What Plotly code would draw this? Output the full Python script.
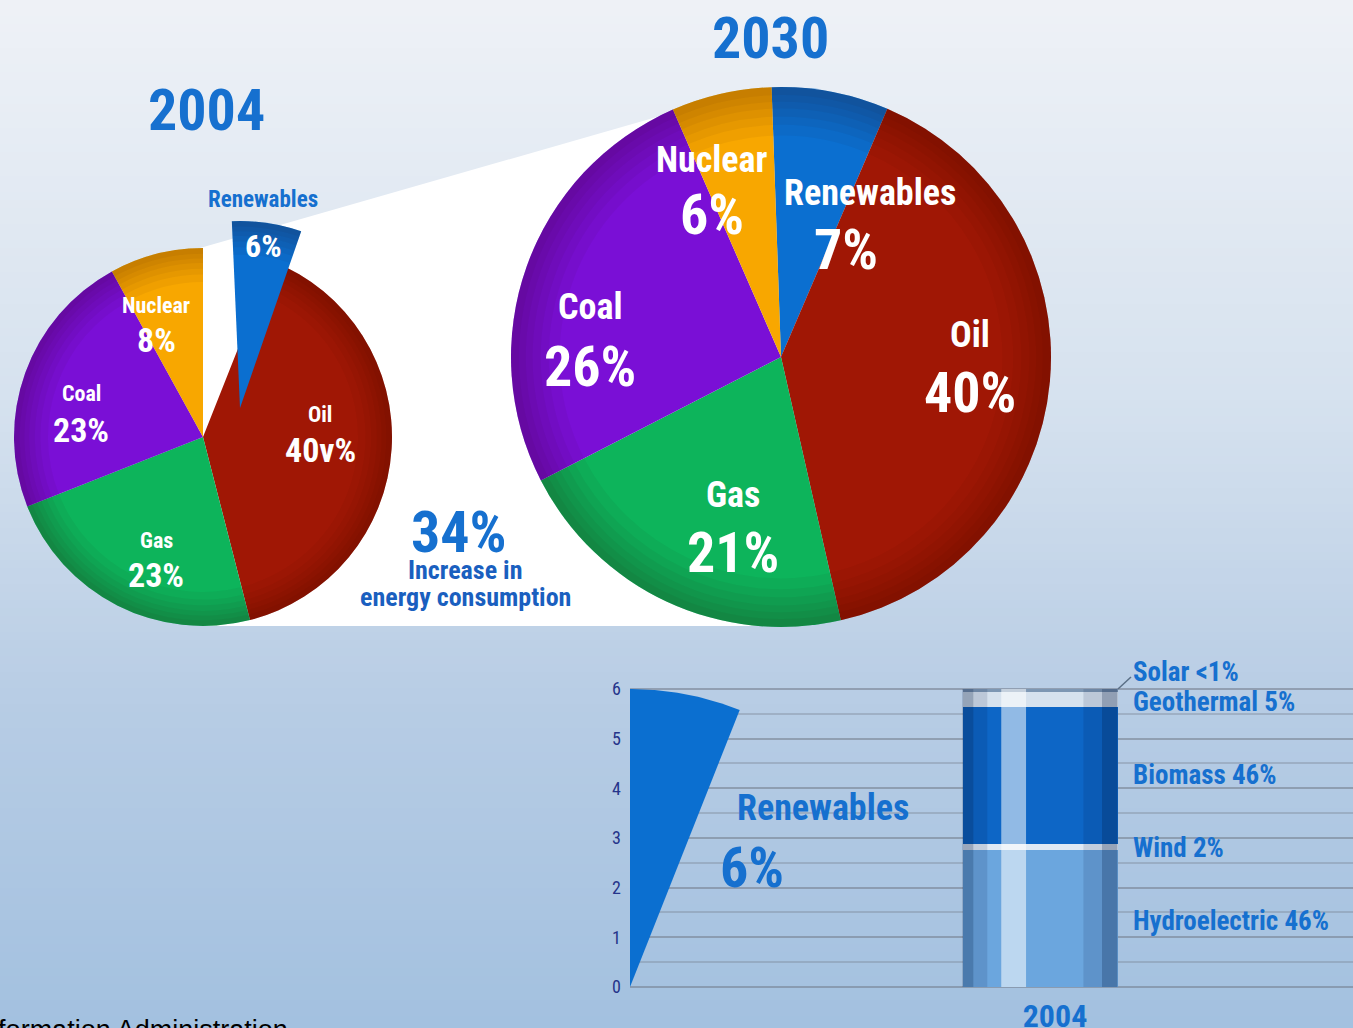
import numpy as np
import plotly.graph_objects as go

W, H = 1353, 1028

# ---------------- data ----------------
sources = ["Renewables", "Oil", "Gas", "Coal", "Nuclear"]
share_2004 = [6, 40, 23, 23, 8]
share_2030 = [7, 40, 21, 26, 6]
pct_text_2004 = ["6%", "40v%", "23%", "23%", "8%"]
pct_text_2030 = ["7%", "40%", "21%", "26%", "6%"]
years = ["2004", "2030"]
consumption_increase = "34%"
increase_text = ["Increase in", "energy consumption"]
renew_sources = ["Hydroelectric", "Wind", "Biomass", "Geothermal", "Solar"]
renew_split_2004 = [46, 2, 46, 5, 1]
renew_split_text = ["46%", "2%", "46%", "5%", "<1%"]
bar_year = "2004"
y_tick_values = [0, 1, 2, 3, 4, 5, 6]
source_note = "Source: Energy Information Administration"

# ---------------- style ----------------
FONT = "Noto Sans Condensed, Noto Sans ExtraCondensed, Liberation Sans Narrow, Roboto Condensed, Roboto, sans-serif"
SRC_COLORS = {"Renewables": "#0b6fd0", "Oil": "#a01705", "Gas": "#0db45b",
              "Coal": "#7a0fd6", "Nuclear": "#f8a700"}
RENEW_COLORS = ["#6ba6de", "#dfe9f4", "#0d66c6", "#d6e2ee", "#7d97b3"]
BLUE = "#1670cf"
DARKBLUE = "#1a5fbf"
WHITE = "#ffffff"
TRANSPARENT = "rgba(0,0,0,0)"


def px(x):
    return x / W


def py(y):
    return 1 - y / H


def dom(cx, cy, r):
    return dict(x=[(cx - r) / W, (cx + r) / W], y=[1 - (cy + r) / H, 1 - (cy - r) / H])


fig = go.Figure()

# ---------------- background ----------------
shapes = []
stops_y = [0, 400, 700, H]
stops_c = np.array([[239, 242, 247], [214, 226, 239], [184, 205, 229], [163, 193, 224]])
band = 8
for y0 in range(0, H, band):
    yc = y0 + band / 2
    c = [int(np.interp(yc, stops_y, stops_c[:, k])) for k in range(3)]
    shapes.append(dict(type="rect", xref="paper", yref="paper", x0=0, x1=1,
                       y0=py(y0 + band + 1), y1=py(y0), line=dict(width=0),
                       fillcolor="rgb(%d,%d,%d)" % tuple(c), layer="below"))

# white "zoom" region joining both pies
pts = [(193, 250), (688, 108), (781, 357), (781, 626), (203, 626)]
path = "M " + " L ".join("%f,%f" % (px(a), py(b)) for a, b in pts) + " Z"
shapes.append(dict(type="path", xref="paper", yref="paper", path=path,
                   fillcolor=WHITE, line=dict(width=0), layer="below"))


# ---------------- pies ----------------
def pie_with_rim(labels, values, colors, domain, rotation, name, rim_mask):
    fig.add_trace(go.Pie(
        labels=labels, values=values, sort=False, direction="clockwise", rotation=rotation,
        marker=dict(colors=colors, line=dict(width=0)),
        textinfo="none", domain=domain, showlegend=False, name=name))
    # darker rim to suggest the bevelled edge of the original
    for hole in [0.82, 0.86, 0.89, 0.92, 0.945, 0.97]:
        fig.add_trace(go.Pie(
            labels=labels, values=values, sort=False, direction="clockwise", rotation=rotation,
            hole=hole, marker=dict(colors=["rgba(40,0,0,0.045)" if m else TRANSPARENT
                                           for m in rim_mask], line=dict(width=0)),
            textinfo="none", domain=domain, showlegend=False, hoverinfo="skip"))


pie_with_rim(sources, share_2004, [TRANSPARENT] + [SRC_COLORS[s] for s in sources[1:]],
             dom(203, 437, 189), 0, years[0], [False, True, True, True, True])
pie_with_rim(["Renewables 2004", "rest"], [share_2004[0], 100 - share_2004[0]],
             [SRC_COLORS["Renewables"], TRANSPARENT], dom(240, 408, 187), -2.5, "Renewables",
             [True, False])
pie_with_rim(sources, share_2030, [SRC_COLORS[s] for s in sources],
             dom(781, 357, 270), -2, years[1], [True] * 5)

# ---------------- renewables bar chart ----------------
ppu = 298 / 6.0          # pixels per axis unit (same on x and y)
x0px = 630
ylo, yhi = -0.15, 6.2
bar_x = (1040 - x0px) / ppu
bw = 155 / ppu

renew_total = share_2004[0]
theta = np.linspace(0, renew_total / 100 * 2 * np.pi, 60)
wx = np.concatenate([[0], renew_total * np.sin(theta), [0]])
wy = np.concatenate([[0], renew_total * np.cos(theta), [0]])
fig.add_trace(go.Scatter(x=wx, y=wy, mode="lines", fill="toself",
                         fillcolor=SRC_COLORS["Renewables"], line=dict(width=0, color=SRC_COLORS["Renewables"]),
                         hoverinfo="skip", showlegend=False))

for name, v, col in zip(renew_sources, renew_split_2004, RENEW_COLORS):
    fig.add_trace(go.Bar(x=[bar_x], y=[v * renew_total / 100], width=bw, name=name,
                         marker=dict(color=col, line=dict(width=0)), showlegend=False))

bl, br = bar_x - bw / 2, bar_x + bw / 2
top = sum(renew_split_2004) * renew_total / 100
for xa, xb, fc in [(bl, bl + 0.07 * bw, "rgba(0,20,60,0.30)"),
                   (bl + 0.07 * bw, bl + 0.16 * bw, "rgba(0,20,60,0.12)"),
                   (bl + 0.25 * bw, bl + 0.41 * bw, "rgba(255,255,255,0.55)"),
                   (br - 0.22 * bw, br - 0.1 * bw, "rgba(0,20,60,0.12)"),
                   (br - 0.1 * bw, br, "rgba(0,20,60,0.32)")]:
    shapes.append(dict(type="rect", xref="x", yref="y", x0=xa, x1=xb, y0=0, y1=top,
                       fillcolor=fc, line=dict(width=0), layer="above"))

# solar leader line
shapes.append(dict(type="line", xref="paper", yref="paper", x0=px(1118), y0=py(689),
                   x1=px(1131), y1=py(677), line=dict(color="#5a6f86", width=1.5)))

GRID = "rgba(120,132,146,0.38)"
fig.update_layout(
    xaxis=dict(domain=[x0px / W, 1], range=[0, (W - x0px) / ppu], showgrid=False, zeroline=False,
               showline=False, ticks="", tickvals=[bar_x], ticktext=["<b>%s</b>" % bar_year],
               tickfont=dict(family=FONT, size=32, color=BLUE), ticklabelshift=15,
               automargin=False, fixedrange=True),
    yaxis=dict(domain=[1 - (987 - ylo * ppu) / H, 1 - (987 - yhi * ppu) / H], range=[ylo, yhi],
               tickvals=y_tick_values, ticktext=[str(v) for v in y_tick_values],
               tickfont=dict(family=FONT, size=18, color="#25348a"),
               ticks="", ticklabelstandoff=8,
               showgrid=True, gridcolor=GRID, gridwidth=2, zeroline=False, showline=False,
               minor=dict(dtick=0.5, tick0=0, showgrid=True, gridcolor=GRID, gridwidth=2),
               automargin=False, fixedrange=True),
    barmode="stack", bargap=0,
)

# ---------------- annotations ----------------
anns = []


def ann(text, x, y, size, color, bold=True, xanchor="center"):
    anns.append(dict(text=("<b>%s</b>" % text) if bold else text, x=px(x), y=py(y),
                     xref="paper", yref="paper", showarrow=False, xanchor=xanchor, yanchor="middle",
                     font=dict(family=FONT, size=size, color=color)))


ann(years[0], 206, 110, 58, BLUE)
ann(years[1], 770, 38, 58, BLUE)

# 2004 pie labels
ann(sources[0], 263, 200, 23, BLUE)
ann(pct_text_2004[0], 263, 246, 32, WHITE)
ann(sources[4], 156, 305, 22, WHITE)
ann(pct_text_2004[4], 156, 340, 34, WHITE)
ann(sources[3], 81, 393, 22, WHITE)
ann(pct_text_2004[3], 81, 430, 34, WHITE)
ann(sources[1], 320, 414, 22, WHITE)
ann(pct_text_2004[1], 320, 450, 34, WHITE)
ann(sources[2], 156, 540, 22, WHITE)
ann(pct_text_2004[2], 156, 575, 34, WHITE)

# 2030 pie labels
ann(sources[4], 712, 160, 36, WHITE)
ann(pct_text_2030[4], 712, 215, 56, WHITE)
ann(sources[0], 870, 193, 36, WHITE)
ann(pct_text_2030[0], 846, 250, 56, WHITE)
ann(sources[3], 590, 307, 36, WHITE)
ann(pct_text_2030[3], 590, 367, 56, WHITE)
ann(sources[1], 970, 335, 36, WHITE)
ann(pct_text_2030[1], 970, 393, 56, WHITE)
ann(sources[2], 733, 495, 36, WHITE)
ann(pct_text_2030[2], 733, 553, 56, WHITE)

# consumption increase
ann(consumption_increase, 459, 532, 58, BLUE)
ann(increase_text[0], 465, 570, 26, DARKBLUE)
ann(increase_text[1], 465, 597, 26, DARKBLUE)

# bar chart labels
ann(sources[0], 823, 808, 36, BLUE)
ann("%d%%" % share_2004[0], 752, 868, 56, BLUE)
label_y = {"Solar": 672, "Geothermal": 702, "Biomass": 775, "Wind": 848, "Hydroelectric": 921}
for name, t in zip(renew_sources, renew_split_text):
    ann("%s %s" % (name, t), 1131, label_y[name], 27, BLUE, xanchor="left")

# source note (cut off at left edge as in original)
anns.append(dict(text=source_note, x=px(290), y=py(1030), xref="paper", yref="paper",
                 showarrow=False, xanchor="right", yanchor="middle",
                 font=dict(family="Liberation Sans, Arial, sans-serif", size=27, color="#000000")))

fig.update_layout(
    width=W, height=H, margin=dict(l=0, r=0, t=0, b=0, pad=0),
    paper_bgcolor="#eef2f7", plot_bgcolor=TRANSPARENT, template="none",
    shapes=shapes, annotations=anns, showlegend=False,
)

fig.write_html("out.html", config={"displayModeBar": False},
               post_script="document.body.style.margin='0';document.body.style.padding='0';"
                           "document.body.style.overflow='hidden';")
